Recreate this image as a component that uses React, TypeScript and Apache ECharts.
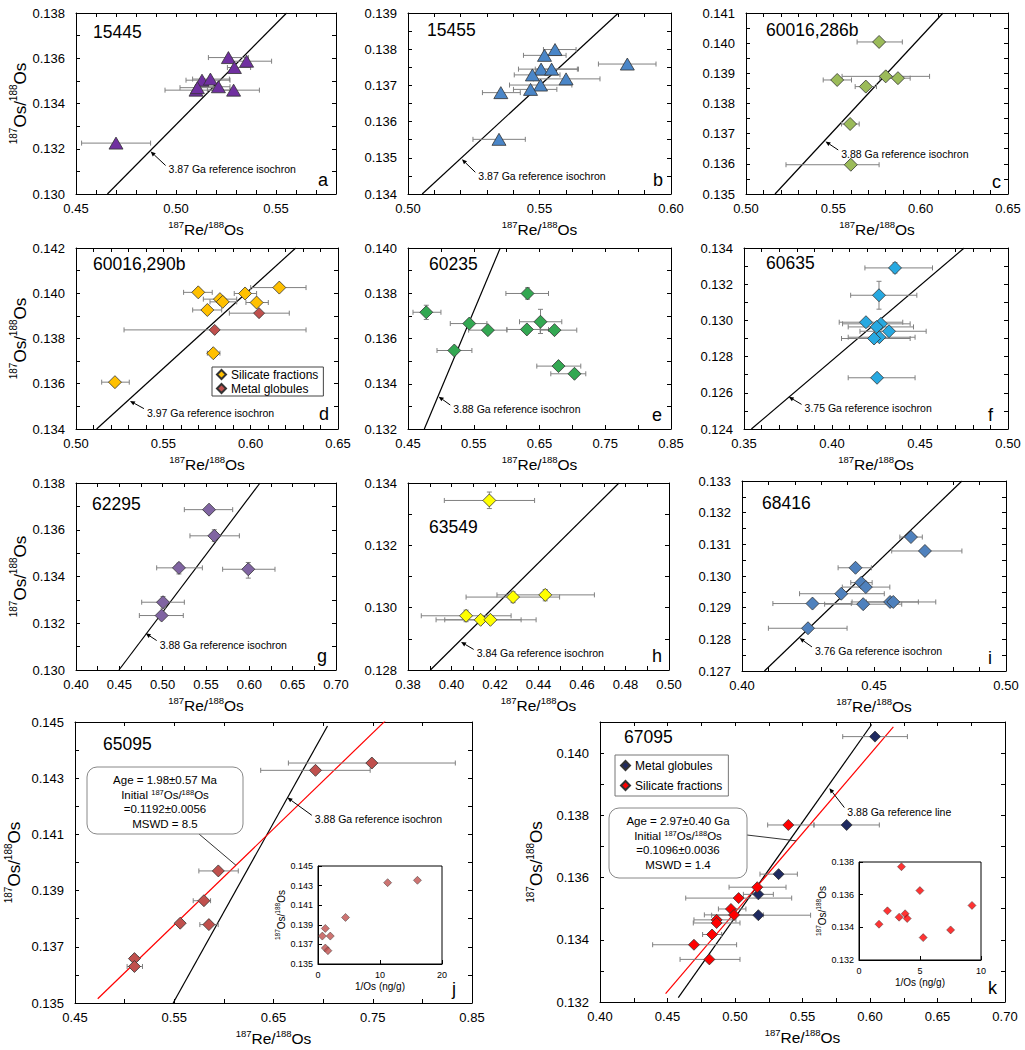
import React, { useEffect, useRef } from 'react';
import * as echarts from 'echarts';

// ---------------- DATA (x = 187Re/188Os, y = 187Os/188Os, x-err low/high, optional y-err low/high) ----------------
const pts15445 = [
  [0.470, 0.13225, 0.4528, 0.4873],
  [0.5262, 0.13603, 0.5162, 0.5362],
  [0.5353, 0.13587, 0.527, 0.5478],
  [0.5292, 0.13559, 0.5257, 0.5373],
  [0.513, 0.13503, 0.505, 0.527],
  [0.5172, 0.13508, 0.5083, 0.5267],
  [0.51, 0.13459, 0.4945, 0.527],
  [0.5107, 0.1347, 0.502, 0.5187],
  [0.5212, 0.13474, 0.511, 0.527],
  [0.5288, 0.13459, 0.5157, 0.5417],
];
const pts15455 = [
  [0.5559, 0.13799, 0.5515, 0.5639],
  [0.5519, 0.13783, 0.5439, 0.5601],
  [0.5834, 0.13759, 0.5724, 0.5943],
  [0.5506, 0.13745, 0.542, 0.5644],
  [0.5546, 0.13745, 0.5484, 0.5648],
  [0.5473, 0.13729, 0.5404, 0.5578],
  [0.5601, 0.13718, 0.5477, 0.573],
  [0.5504, 0.13701, 0.5386, 0.5623],
  [0.5466, 0.13689, 0.5401, 0.5566],
  [0.5353, 0.1368, 0.5283, 0.5427],
  [0.5346, 0.13551, 0.5247, 0.5446],
];
const pts60016_286 = [
  [0.5762, 0.14004, 0.5636, 0.5895],
  [0.58, 0.1389, 0.555, 0.6051],
  [0.587, 0.13884, 0.5766, 0.594],
  [0.5522, 0.13878, 0.5442, 0.5604],
  [0.5686, 0.13856, 0.5625, 0.5747],
  [0.5596, 0.13732, 0.5547, 0.5648],
  [0.56, 0.13597, 0.5229, 0.5762],
];
const pts60016_290Sil = [
  [0.6164, 0.14025, 0.6, 0.6317],
  [0.57, 0.14004, 0.5616, 0.578],
  [0.5968, 0.13999, 0.5906, 0.6034],
  [0.5824, 0.13974, 0.5729, 0.592],
  [0.584, 0.13962, 0.5767, 0.592],
  [0.6034, 0.13959, 0.5973, 0.6101],
  [0.5752, 0.13926, 0.5668, 0.5834],
  [0.5786, 0.13735, 0.5752, 0.5824],
  [0.5223, 0.13607, 0.5147, 0.5305],
];
const pts60016_290Met = [
  [0.6048, 0.13912, 0.5878, 0.6221],
  [0.5794, 0.13838, 0.5275, 0.6317],
];
const pts60235 = [
  [0.6318, 0.13799, 0.5989, 0.6637, 0.13774, 0.13824],
  [0.4778, 0.13716, 0.4576, 0.5001, 0.13684, 0.13747],
  [0.5432, 0.13666, 0.5143, 0.57],
  [0.6515, 0.13674, 0.6196, 0.6839, 0.13622, 0.13729],
  [0.5715, 0.13637, 0.5422, 0.6004],
  [0.6308, 0.1364, 0.6004, 0.6637],
  [0.6728, 0.13637, 0.651, 0.7067],
  [0.5204, 0.13547, 0.4941, 0.5472],
  [0.6789, 0.13478, 0.6459, 0.7128],
  [0.7032, 0.13444, 0.6672, 0.7204],
];
const pts60635 = [
  [0.4358, 0.1329, 0.4187, 0.4571, 0.13262, 0.13319],
  [0.4267, 0.13139, 0.4106, 0.4482, 0.13062, 0.13216],
  [0.4193, 0.1299, 0.4041, 0.4402],
  [0.4278, 0.12981, 0.406, 0.4444],
  [0.4254, 0.12964, 0.4092, 0.4463],
  [0.4324, 0.1294, 0.4159, 0.4535],
  [0.4269, 0.12907, 0.4092, 0.4472],
  [0.4239, 0.129, 0.4054, 0.4444],
  [0.4256, 0.12683, 0.4092, 0.4472],
];
const pts62295 = [
  [0.5535, 0.13686, 0.525, 0.5808],
  [0.5596, 0.13574, 0.5315, 0.5885, 0.1355, 0.136],
  [0.5188, 0.13437, 0.4931, 0.5458, 0.13411, 0.13457],
  [0.5988, 0.13431, 0.5692, 0.6296, 0.13393, 0.1346],
  [0.5004, 0.1329, 0.4758, 0.525, 0.13264, 0.13314],
  [0.4988, 0.13233, 0.4731, 0.5238],
];
const pts63549 = [
  [0.4174, 0.13344, 0.3967, 0.4382, 0.13318, 0.13371],
  [0.4283, 0.13034, 0.4067, 0.4497, 0.13016, 0.13051],
  [0.4431, 0.13041, 0.4209, 0.4657, 0.13022, 0.13058],
  [0.4067, 0.12974, 0.3861, 0.4274, 0.12955, 0.12992],
  [0.4134, 0.12961, 0.3929, 0.432],
  [0.4179, 0.12961, 0.3969, 0.4389],
];
const pts68416 = [
  [0.464, 0.13123, 0.4598, 0.4683],
  [0.4693, 0.13079, 0.4567, 0.4833],
  [0.443, 0.13026, 0.4364, 0.449],
  [0.4452, 0.12979, 0.4412, 0.4493],
  [0.4469, 0.12965, 0.438, 0.456],
  [0.4376, 0.12944, 0.4218, 0.4539],
  [0.4267, 0.12913, 0.4117, 0.4414],
  [0.4459, 0.12911, 0.4313, 0.4605],
  [0.4561, 0.12918, 0.4471, 0.4668],
  [0.4573, 0.12918, 0.4417, 0.4734],
  [0.425, 0.12835, 0.41, 0.4398],
];
const pts65095 = [
  [0.7491, 0.14354, 0.665, 0.8332],
  [0.6923, 0.14328, 0.6371, 0.7474],
  [0.5944, 0.1397, 0.5748, 0.6145],
  [0.5799, 0.13864, 0.5691, 0.5866],
  [0.556, 0.13784, 0.554, 0.558],
  [0.5849, 0.13779, 0.5758, 0.5943],
  [0.5099, 0.13658, 0.506, 0.514],
  [0.5099, 0.1363, 0.5025, 0.518],
];
const inv65095 = [
  [16.04, 0.14354], [11.23, 0.1433], [4.44, 0.13975], [1.18, 0.13863],
  [0.7, 0.13785], [1.98, 0.13785], [1.18, 0.13663], [1.6, 0.13636],
];
const pts67095Met = [
  [0.6037, 0.14053, 0.5798, 0.6277],
  [0.5827, 0.13769, 0.5585, 0.6069],
  [0.5323, 0.13611, 0.5185, 0.5462],
  [0.5173, 0.13546, 0.5062, 0.5284],
  [0.5173, 0.13479, 0.4827, 0.556],
];
const pts67095Sil = [
  [0.5395, 0.13769, 0.5242, 0.5585],
  [0.5165, 0.13569, 0.4956, 0.5378],
  [0.5027, 0.13534, 0.4635, 0.542],
  [0.497, 0.13499, 0.4877, 0.5081],
  [0.4993, 0.1348, 0.4773, 0.521],
  [0.4864, 0.13464, 0.4696, 0.5007],
  [0.4864, 0.13454, 0.4691, 0.5037],
  [0.483, 0.13417, 0.476, 0.4901],
  [0.4696, 0.13384, 0.439, 0.5012],
  [0.481, 0.13337, 0.4593, 0.5037],
];
const inv67095 = [
  [3.48, 0.13771], [4.99, 0.13625], [9.26, 0.13534], [2.33, 0.13501], [3.78, 0.13483],
  [3.29, 0.13462], [3.95, 0.13454], [1.64, 0.13419], [7.51, 0.13384], [5.26, 0.13337],
];

// reference isochrons / regression lines (end points)
const iso15445 = [[0.4657, 0.13], [0.5553, 0.138]];
const iso15455 = [[0.5054, 0.134], [0.58, 0.139]];
const iso60016_286 = [[0.5166, 0.135], [0.6128, 0.141]];
const iso60016_290 = [[0.5118, 0.134], [0.6258, 0.142]];
const iso60235 = [[0.4748, 0.132], [0.5903, 0.14]];
const iso60635 = [[0.3542, 0.124], [0.4751, 0.134]];
const iso62295 = [[0.4496, 0.13], [0.6123, 0.138]];
const iso63549 = [[0.3903, 0.128], [0.477, 0.134]];
const iso68416 = [[0.4085, 0.127], [0.4833, 0.133]];
const iso65095 = [[0.5489, 0.135], [0.7044, 0.14486]];
const fit65095 = [[0.4729, 0.13515], [0.7626, 0.14504]];
const iso67095 = [[0.458, 0.13214], [0.6012, 0.14092]];
const fit67095 = [[0.4486, 0.13227], [0.6173, 0.14084]];

// annotation arrows: [tipX, tipY, tailX, tailY]
const ann15445 = { at: [0.4873, 0.13188, 0.4948, 0.13126], text: '3.87 Ga reference isochron' };
const ann15455 = { at: [0.5205, 0.13496, 0.5256, 0.1346], text: '3.87 Ga reference isochron' };
const ann60016_286 = { at: [0.5455, 0.13674, 0.5528, 0.13646], text: '3.88 Ga reference isochron' };
const ann60016_290 = { at: [0.5309, 0.13524, 0.5389, 0.1349], text: '3.97 Ga reference isochron' };
const ann60235 = { at: [0.4966, 0.13343, 0.5143, 0.13306], text: '3.88 Ga reference isochron' };
const ann60635 = { at: [0.3754, 0.12578, 0.3827, 0.12536], text: '3.75 Ga reference isochron' };
const ann62295 = { at: [0.4804, 0.13157, 0.4931, 0.13126], text: '3.88 Ga reference isochron' };
const ann63549 = { at: [0.4044, 0.1289, 0.4102, 0.12866], text: '3.84 Ga reference isochron' };
const ann68416 = { at: [0.4218, 0.12804, 0.4265, 0.12776], text: '3.76 Ga reference isochron' };
const ann65095 = { at: [0.664, 0.14231, 0.6886, 0.14168], text: '3.88 Ga reference isochron' };
const ann67095 = { at: [0.5699, 0.13887, 0.581, 0.13825], text: '3.88 Ga reference line' };

const calloutJ = { tip: [0.6122, 0.1399], lines: ['Age = 1.98±0.57 Ma', 'Initial {s|187}Os/{s|188}Os', '=0.1192±0.0056', 'MSWD = 8.5'] };
const calloutK = { tip: [0.5452, 0.13718], lines: ['Age = 2.97±0.40 Ga', 'Initial {s|187}Os/{s|188}Os', '=0.1096±0.0036', 'MSWD = 1.4'] };

// ---------------- LAYOUT / STYLE ----------------
const FONT = '"Liberation Sans", Arial, Helvetica, sans-serif';
const RE_OS = '{s|187}{b|Re/}{s|188}{b|Os}';
const OS_OS = '{s|187}{b|Os/}{s|188}{b|Os}';

function rich(base: number, sup: number) {
  return {
    b: { fontSize: base, fontFamily: FONT, color: '#000', lineHeight: base + 3, verticalAlign: 'bottom' },
    s: { fontSize: sup, fontFamily: FONT, color: '#000', lineHeight: sup + 1, verticalAlign: 'top' },
  };
}

type Grp = { name: string; data: number[][]; color: string; symbol: string; size: any };
type Panel = {
  grid: any; x: number[]; y: number[]; yGap?: number; groups: Grp[];
  refs: { data: number[][]; color: string }[]; ann: { at: number[]; text: string };
  title: [string, number, number]; letter: [string, number, number];
};

const TRI = [14, 12];
const DIA = [13, 13];

const panels: Panel[] = [
  { grid: { left: 76, top: 13, width: 260, height: 181 }, x: [0.45, 0.58, 0.01, 0.05, 2], y: [0.13, 0.138, 0.001, 0.002, 3], yGap: 46,
    groups: [{ name: 'p15445', data: pts15445, color: '#7030A0', symbol: 'triangle', size: TRI }],
    refs: [{ data: iso15445, color: '#000' }], ann: ann15445, title: ['15445', 93, 23], letter: ['a', 318, 171] },
  { grid: { left: 408, top: 13, width: 263, height: 181 }, x: [0.5, 0.6, 0.01, 0.05, 2], y: [0.134, 0.139, 0.0005, 0.001, 3],
    groups: [{ name: 'p15455', data: pts15455, color: '#4A86C8', symbol: 'triangle', size: TRI }],
    refs: [{ data: iso15455, color: '#000' }], ann: ann15455, title: ['15455', 427, 21], letter: ['b', 653, 171] },
  { grid: { left: 746, top: 13, width: 262, height: 181 }, x: [0.5, 0.65, 0.01, 0.05, 2], y: [0.135, 0.141, 0.0005, 0.001, 3],
    groups: [{ name: 'p60016a', data: pts60016_286, color: '#9BBB59', symbol: 'diamond', size: DIA }],
    refs: [{ data: iso60016_286, color: '#000' }], ann: ann60016_286, title: ['60016,286b', 766, 21], letter: ['c', 992, 173] },
  { grid: { left: 76, top: 248, width: 262, height: 181 }, x: [0.5, 0.65, 0.01, 0.05, 2], y: [0.134, 0.142, 0.001, 0.002, 3], yGap: 41,
    groups: [
      { name: 'Silicate fractions', data: pts60016_290Sil, color: '#FFC000', symbol: 'diamond', size: DIA },
      { name: 'Metal globules', data: pts60016_290Met, color: '#C0504D', symbol: 'diamond', size: [11, 11] },
    ],
    refs: [{ data: iso60016_290, color: '#000' }], ann: ann60016_290, title: ['60016,290b', 93, 255], letter: ['d', 319, 405] },
  { grid: { left: 408, top: 248, width: 263, height: 181 }, x: [0.45, 0.85, 0.05, 0.1, 2], y: [0.132, 0.14, 0.001, 0.002, 3],
    groups: [{ name: 'p60235', data: pts60235, color: '#33A852', symbol: 'diamond', size: DIA }],
    refs: [{ data: iso60235, color: '#000' }], ann: ann60235, title: ['60235', 429, 255], letter: ['e', 652, 406] },
  { grid: { left: 744, top: 248, width: 264, height: 181 }, x: [0.35, 0.5, 0.01, 0.05, 2], y: [0.124, 0.134, 0.001, 0.002, 3],
    groups: [{ name: 'p60635', data: pts60635, color: '#27A9E1', symbol: 'diamond', size: DIA }],
    refs: [{ data: iso60635, color: '#000' }], ann: ann60635, title: ['60635', 766, 254], letter: ['f', 988, 406] },
  { grid: { left: 76, top: 483, width: 260, height: 187 }, x: [0.4, 0.7, 0.025, 0.05, 2], y: [0.13, 0.138, 0.001, 0.002, 3], yGap: 43,
    groups: [{ name: 'p62295', data: pts62295, color: '#8064A2', symbol: 'diamond', size: DIA }],
    refs: [{ data: iso62295, color: '#000' }], ann: ann62295, title: ['62295', 92, 495], letter: ['g', 317, 647] },
  { grid: { left: 408, top: 483, width: 261, height: 187 }, x: [0.38, 0.5, 0.01, 0.02, 2], y: [0.128, 0.134, 0.001, 0.002, 3],
    groups: [{ name: 'p63549', data: pts63549, color: '#FFFF00', symbol: 'diamond', size: DIA }],
    refs: [{ data: iso63549, color: '#000' }], ann: ann63549, title: ['63549', 429, 518], letter: ['h', 652, 647] },
  { grid: { left: 742, top: 481, width: 264, height: 190 }, x: [0.4, 0.5, 0.01, 0.05, 2], y: [0.127, 0.133, 0.0005, 0.001, 3],
    groups: [{ name: 'p68416', data: pts68416, color: '#4F81BD', symbol: 'diamond', size: DIA }],
    refs: [{ data: iso68416, color: '#000' }], ann: ann68416, title: ['68416', 762, 494], letter: ['i', 988, 649] },
  { grid: { left: 75, top: 722, width: 397, height: 281 }, x: [0.45, 0.85, 0.05, 0.1, 2], y: [0.135, 0.145, 0.001, 0.002, 3], yGap: 52,
    groups: [{ name: 'p65095', data: pts65095, color: '#C0504D', symbol: 'diamond', size: [12, 12] }],
    refs: [{ data: iso65095, color: '#000' }, { data: fit65095, color: '#FF0000' }], ann: ann65095, title: ['65095', 103, 735], letter: ['j', 452, 980] },
  { grid: { left: 600, top: 722, width: 405, height: 280 }, x: [0.4, 0.7, 0.025, 0.05, 2], y: [0.132, 0.141, 0.001, 0.002, 3], yGap: 55,
    groups: [
      { name: 'k-Metal globules', data: pts67095Met, color: '#1F2A60', symbol: 'diamond', size: [11, 11] },
      { name: 'k-Silicate fractions', data: pts67095Sil, color: '#FF0000', symbol: 'diamond', size: [11, 11] },
    ],
    refs: [{ data: iso67095, color: '#000' }, { data: fit67095, color: '#FF0000' }], ann: ann67095, title: ['67095', 624, 728], letter: ['k', 988, 979] },
];

const insets = [
  { grid: { left: 318, top: 866, width: 124, height: 98 }, x: [0, 20, 10, 10, 0], y: [0.135, 0.145, 0.002, 0.002, 3], data: inv65095, color: '#C0504D' },
  { grid: { left: 859, top: 862, width: 122, height: 98 }, x: [0, 10, 5, 5, 0], y: [0.132, 0.138, 0.002, 0.002, 3], data: inv67095, color: '#FF0000' },
];

function fmt(min: number, step: number, dec: number) {
  return (v: number) => {
    const k = (v - min) / step;
    return Math.abs(k - Math.round(k)) < 1e-6 ? v.toFixed(dec) : '';
  };
}

function axis(gi: number, a: number[], pos: string, showLabel: boolean, fontSize: number, margin: number, extra: any = {}) {
  return {
    type: 'value', gridIndex: gi, position: pos, min: a[0], max: a[1], interval: a[2],
    axisLine: { show: true, onZero: false, lineStyle: { color: '#000', width: 1 } },
    axisTick: { show: true, inside: true, length: 4, lineStyle: { color: '#000', width: 1 } },
    axisLabel: { show: showLabel, margin, fontSize, color: '#000', fontFamily: FONT, formatter: fmt(a[0], a[3], a[4]) },
    splitLine: { show: false },
    ...extra,
  };
}

function errRender(params: any, api: any) {
  const x = api.value(0), y = api.value(1);
  const xlo = api.value(2), xhi = api.value(3), ylo = api.value(4), yhi = api.value(5);
  const st = { stroke: '#808080', lineWidth: 1 };
  const c = 2.5;
  const ch: any[] = [];
  const p1 = api.coord([xlo, y]), p2 = api.coord([xhi, y]);
  ch.push({ type: 'line', shape: { x1: p1[0], y1: p1[1], x2: p2[0], y2: p2[1] }, style: st });
  ch.push({ type: 'line', shape: { x1: p1[0], y1: p1[1] - c, x2: p1[0], y2: p1[1] + c }, style: st });
  ch.push({ type: 'line', shape: { x1: p2[0], y1: p2[1] - c, x2: p2[0], y2: p2[1] + c }, style: st });
  if (ylo !== yhi && !isNaN(ylo)) {
    const q1 = api.coord([x, ylo]), q2 = api.coord([x, yhi]);
    ch.push({ type: 'line', shape: { x1: q1[0], y1: q1[1], x2: q2[0], y2: q2[1] }, style: st });
    ch.push({ type: 'line', shape: { x1: q1[0] - c, y1: q1[1], x2: q1[0] + c, y2: q1[1] }, style: st });
    ch.push({ type: 'line', shape: { x1: q2[0] - c, y1: q2[1], x2: q2[0] + c, y2: q2[1] }, style: st });
  }
  return { type: 'group', children: ch };
}

function annRender(text: string) {
  return (params: any, api: any) => {
    const t = api.coord([api.value(0), api.value(1)]);
    const s = api.coord([api.value(2), api.value(3)]);
    const dx = t[0] - s[0], dy = t[1] - s[1];
    const L = Math.hypot(dx, dy) || 1;
    const ux = dx / L, uy = dy / L;
    const ah = 5, aw = 2.2;
    const bx = t[0] - ux * ah, by = t[1] - uy * ah;
    return {
      type: 'group',
      children: [
        { type: 'line', shape: { x1: s[0], y1: s[1], x2: bx, y2: by }, style: { stroke: '#000', lineWidth: 1 } },
        { type: 'polygon', shape: { points: [[t[0], t[1]], [bx - uy * aw, by + ux * aw], [bx + uy * aw, by - ux * aw]] }, style: { fill: '#000' } },
        { type: 'text', x: s[0] + 3, y: s[1] + 4, style: { text, fontSize: 10.5, fontFamily: FONT, fill: '#000', align: 'left', verticalAlign: 'middle', textAlign: 'left', textVerticalAlign: 'middle' } },
      ],
    };
  };
}

function buildOption() {
  const grid: any[] = [];
  const xAxis: any[] = [];
  const yAxis: any[] = [];
  const series: any[] = [];

  panels.forEach((p, i) => {
    grid.push({ ...p.grid, containLabel: false });
    const xi = xAxis.length, yi = yAxis.length;
    xAxis.push(axis(i, p.x, 'bottom', true, 13, 8, {
      name: RE_OS, nameLocation: 'middle', nameGap: 25, nameTextStyle: { rich: rich(15.5, 9.5) },
    }));
    xAxis.push(axis(i, p.x, 'top', false, 13, 8));
    yAxis.push(axis(i, p.y, 'left', true, 13, 11, p.yGap ? {
      name: OS_OS, nameLocation: 'middle', nameRotate: 90, nameGap: p.yGap, nameTextStyle: { rich: rich(17, 10) },
    } : {}));
    yAxis.push(axis(i, p.y, 'right', false, 13, 8));

    p.refs.forEach((r) => {
      series.push({ type: 'line', xAxisIndex: xi, yAxisIndex: yi, data: r.data, symbol: 'none', silent: true,
        lineStyle: { color: r.color, width: 1.2 }, z: 2 });
    });
    p.groups.forEach((g) => {
      const d = g.data.map((v) => [v[0], v[1], v[2], v[3], v.length > 4 ? v[4] : v[1], v.length > 5 ? v[5] : v[1]]);
      series.push({ type: 'custom', xAxisIndex: xi, yAxisIndex: yi, data: d, renderItem: errRender, silent: true, z: 3,
        encode: { x: 0, y: 1 } });
    });
    p.groups.forEach((g) => {
      series.push({ type: 'scatter', name: g.name, xAxisIndex: xi, yAxisIndex: yi, data: g.data.map((v) => [v[0], v[1]]),
        symbol: g.symbol, symbolSize: g.size, z: 4,
        itemStyle: { color: g.color, borderColor: '#333', borderWidth: 0.8, opacity: 1 } });
    });
    series.push({ type: 'custom', xAxisIndex: xi, yAxisIndex: yi, data: [p.ann.at], renderItem: annRender(p.ann.text), silent: true, z: 5,
      encode: { x: 0, y: 1 } });
  });

  insets.forEach((q, k) => {
    const gi = panels.length + k;
    grid.push({ ...q.grid, show: true, backgroundColor: '#fff', borderColor: '#000', borderWidth: 1, z: 6 });
    const xi = xAxis.length, yi = yAxis.length;
    xAxis.push(axis(gi, q.x, 'bottom', true, 9, 6, {
      name: '1/Os (ng/g)', nameLocation: 'middle', nameGap: 17, nameTextStyle: { fontSize: 10, fontFamily: FONT, color: '#000' }, z: 7,
    }));
    yAxis.push(axis(gi, q.y, 'left', true, 9, 5, {
      name: OS_OS, nameLocation: 'middle', nameRotate: 90, nameGap: 31, nameTextStyle: { rich: rich(10, 6.5) }, z: 7,
    }));
    series.push({ type: 'scatter', name: 'inset' + k, xAxisIndex: xi, yAxisIndex: yi, data: q.data, symbol: 'diamond', symbolSize: 8, z: 8,
      itemStyle: { color: q.color, borderColor: '#333', borderWidth: 0.6 } });
  });

  const legend = [
    { data: ['Silicate fractions', 'Metal globules'], left: 212, top: 367, orient: 'vertical', icon: 'diamond',
      itemWidth: 9, itemHeight: 9, itemGap: 1, padding: [1, 5, 1, 4], borderColor: '#444', borderWidth: 1, backgroundColor: '#fff',
      selectedMode: false, textStyle: { fontSize: 12, fontFamily: FONT, color: '#000', lineHeight: 13 } },
    { data: ['k-Metal globules', 'k-Silicate fractions'], left: 615, top: 755, orient: 'vertical', icon: 'diamond',
      itemWidth: 9, itemHeight: 9, itemGap: 7, padding: [4, 6, 4, 5], borderColor: '#777', borderWidth: 1, backgroundColor: '#fff',
      selectedMode: false, formatter: (n: string) => n.slice(2), textStyle: { fontSize: 12, fontFamily: FONT, color: '#000', lineHeight: 13 } },
  ];

  return { animation: false, backgroundColor: '#fff', grid, xAxis, yAxis, series, legend };
}

function buildGraphic(jTip: number[], kTip: number[]) {
  const els: any[] = [];
  panels.forEach((p) => {
    els.push({ type: 'text', left: p.title[1], top: p.title[2], z: 10,
      style: { text: p.title[0], fontSize: 17.5, fontFamily: FONT, fill: '#000' } });
    els.push({ type: 'text', left: p.letter[1], top: p.letter[2], z: 10,
      style: { text: p.letter[0], fontSize: 18, fontFamily: FONT, fill: '#000' } });
  });
  const callout = (c: any, box: number[], tipFrom: number[], tip: number[]) => {
    els.push({ type: 'line', z: 9, shape: { x1: tipFrom[0], y1: tipFrom[1], x2: tip[0], y2: tip[1] }, style: { stroke: '#333', lineWidth: 1 } });
    els.push({ type: 'rect', z: 10, shape: { x: box[0], y: box[1], width: box[2], height: box[3], r: 10 },
      style: { fill: '#fff', stroke: '#888', lineWidth: 1 } });
    c.lines.forEach((t: string, i: number) => {
      els.push({ type: 'text', z: 11, x: box[0] + box[2] / 2, y: box[1] + 13 + i * 14.5,
        style: { text: t, fontSize: 11.5, fontFamily: FONT, fill: '#000', align: 'center', verticalAlign: 'middle',
          textAlign: 'center', textVerticalAlign: 'middle',
          rich: { s: { fontSize: 7.5, fontFamily: FONT, fill: '#000', color: '#000', verticalAlign: 'top', lineHeight: 8 } } } });
    });
  };
  callout(calloutJ, [87, 767, 156, 67], [199, 834], jTip);
  callout(calloutK, [609, 808, 138, 70], [747, 835], kTip);
  return els;
}

export default function App() {
  const ref = useRef<HTMLDivElement>(null);
  useEffect(() => {
    document.body.style.margin = '0';
    const chart = echarts.init(ref.current as HTMLDivElement, null, { renderer: 'svg' });
    chart.setOption(buildOption() as any);
    const jTip = chart.convertToPixel({ xAxisIndex: 18, yAxisIndex: 18 } as any, calloutJ.tip) as any;
    const kTip = chart.convertToPixel({ xAxisIndex: 20, yAxisIndex: 20 } as any, calloutK.tip) as any;
    chart.setOption({ graphic: buildGraphic(jTip, kTip) } as any);
    return () => chart.dispose();
  }, []);
  return <div ref={ref} style={{ width: 1025, height: 1050, background: '#fff' }} />;
}
